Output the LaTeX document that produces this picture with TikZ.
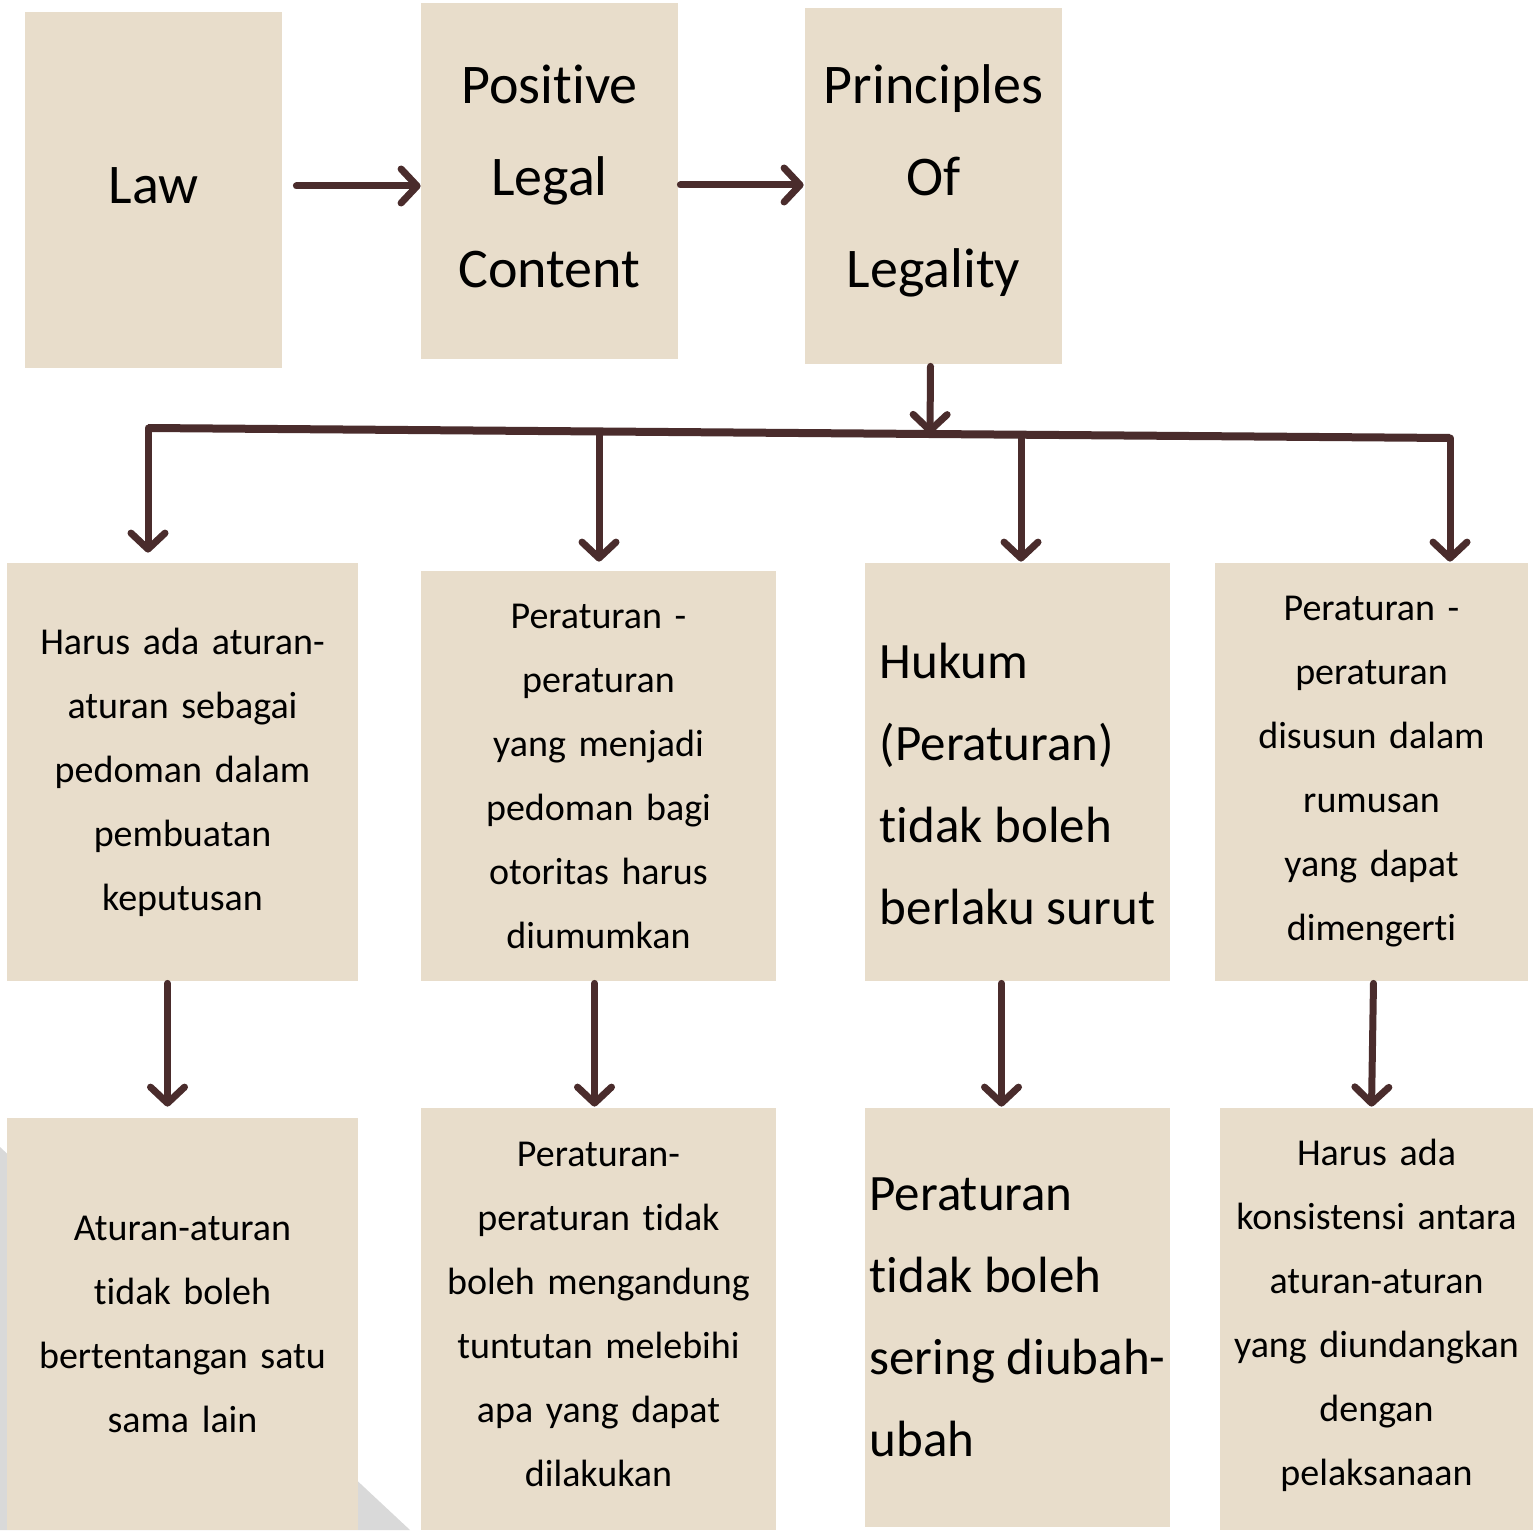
\documentclass[tikz,border=0pt]{standalone}
\usepackage{fontspec}
\setmainfont{Carlito}[Ligatures={NoCommon}]
\usetikzlibrary{arrows.meta,calc}
\definecolor{boxbeige}{RGB}{232,221,203}
\definecolor{arrowbrown}{RGB}{74,44,44}
\definecolor{shadegray}{RGB}{217,217,217}
\tikzstyle{box}   = [fill=boxbeige, inner sep=0pt, align=center]
\tikzstyle{arrow} = [line width=3.5pt, draw=arrowbrown, line cap=round, -{Straight Barb[length=8pt,width=17pt,round]}]
\tikzstyle{bar}   = [line width=4pt, draw=arrowbrown]
\newcommand{\topfont}{\fontsize{28}{46}\selectfont}
\newcommand{\smallfont}{\fontsize{19}{32}\selectfont}
\newcommand{\bigfont}{\fontsize{25.5}{41}\selectfont}

\begin{document}
\begin{tikzpicture}[x=0.5pt,y=-0.5pt]
        \useasboundingbox (0,0) rectangle (1534,1530);
        \fill[shadegray] (0,1147) -- (410,1530) -- (0,1530) -- cycle;

        % top row
        \node[box, minimum width=128.5pt, minimum height=178pt, font=\topfont] (law) at (153.5,190) {\raisebox{4pt}{Law}};
        \node[box, minimum width=128.5pt, minimum height=178pt, text width=124pt, font=\topfont] (pos) at (549.5,181) {Positive\\Legal\\Content\rule[-5pt]{0pt}{1pt}};
        \node[box, minimum width=128.5pt, minimum height=178pt, text width=124pt, font=\topfont] (pol) at (933.5,186) {Principles\\Of\\Legality\rule[-10pt]{0pt}{1pt}};

        % middle row
        \node[box, minimum width=175.5pt, minimum height=209pt, text width=172pt, font=\smallfont] (b1) at (182.5,772) {Harus ada aturan-\\aturan sebagai\\pedoman dalam\\pembuatan\\keputusan};
        \node[box, minimum width=177.5pt, minimum height=205pt, text width=172pt, font=\smallfont] (b2) at (598.5,776) {Peraturan -\\peraturan\\yang menjadi\\pedoman bagi\\otoritas harus\\diumumkan};
        \node[box, minimum width=152.5pt, minimum height=209pt, align=left, font=\bigfont] (b3) at (1017.5,772) {\rule{0pt}{30pt}Hukum\\(Peraturan)\\tidak boleh\\berlaku surut};
        \node[box, minimum width=156.5pt, minimum height=209pt, text width=152pt, font=\smallfont] (b4) at (1371.5,772) {Peraturan -\\peraturan\\disusun dalam\\rumusan\\yang dapat\\dimengerti};

        % bottom row
        \node[box, minimum width=175.5pt, minimum height=206pt, text width=172pt, font=\smallfont] (c1) at (182.5,1324) {Aturan-aturan\\tidak boleh\\bertentangan satu\\sama lain};
        \node[box, minimum width=177.5pt, minimum height=211pt, text width=172pt, font=\smallfont] (c2) at (598.5,1319) {Peraturan-\\peraturan tidak\\boleh mengandung\\tuntutan melebihi\\apa yang dapat\\dilakukan\rule[-5pt]{0pt}{1pt}};
        \node[box, minimum width=152.5pt, minimum height=209.5pt, align=left, font=\bigfont] (c3) at (1017.5,1317.5) {Peraturan\\tidak boleh\\sering diubah-\\ubah};
        \node[box, minimum width=156.5pt, minimum height=211pt, text width=154pt, font=\smallfont] (c4) at (1376.5,1319) {Harus ada\\konsistensi antara\\aturan-aturan\\yang diundangkan\\dengan\\pelaksanaan\rule[-7pt]{0pt}{1pt}};

        % branch line
        \coordinate (hub) at (930,434);
        \coordinate (j1) at (148,428);
        \coordinate (j2) at (599,431.5);
        \coordinate (j3) at (1021,434.7);
        \coordinate (j4) at (1450,438);
        \draw[bar] (j1) -- (j4);

        \draw[arrow, shorten <=7pt] ([yshift=2pt]law.east) -- ([yshift=2pt]law.east -| pos.west);
        \draw[arrow, shorten <=1pt, shorten >=0.5pt] ([yshift=-2pt]pos.east) -- ([yshift=-2pt]pos.east -| pol.west);
        \draw[arrow, shorten <=1pt] ([xshift=-1.5pt]pol.south) -- (hub);

        \draw[arrow, shorten >=5pt] (j1) -- (j1 |- b1.north);
        \draw[arrow, shorten >=4.5pt] (j2) -- (j2 |- b2.north);
        \draw[arrow, shorten >=0.5pt] (j3) -- (j3 |- b3.north);
        \draw[arrow, shorten >=0.5pt] (j4) -- (j4 |- b4.north);

        \draw[arrow, shorten <=1pt, shorten >=5.5pt] ([xshift=-7.5pt]b1.south) -- ([xshift=-7.5pt]c1.north);
        \draw[arrow, shorten <=1pt, shorten >=0.5pt] ([xshift=-2pt]b2.south) -- ([xshift=-2pt]c2.north);
        \draw[arrow, shorten <=1pt, shorten >=0.5pt] ([xshift=-8pt]b3.south) -- ([xshift=-8pt]c3.north);
        \draw[arrow, shorten <=1pt, shorten >=0.5pt] ([xshift=1pt]b4.south) -- (b4.south |- c4.north);
    \end{tikzpicture}
\end{document}
